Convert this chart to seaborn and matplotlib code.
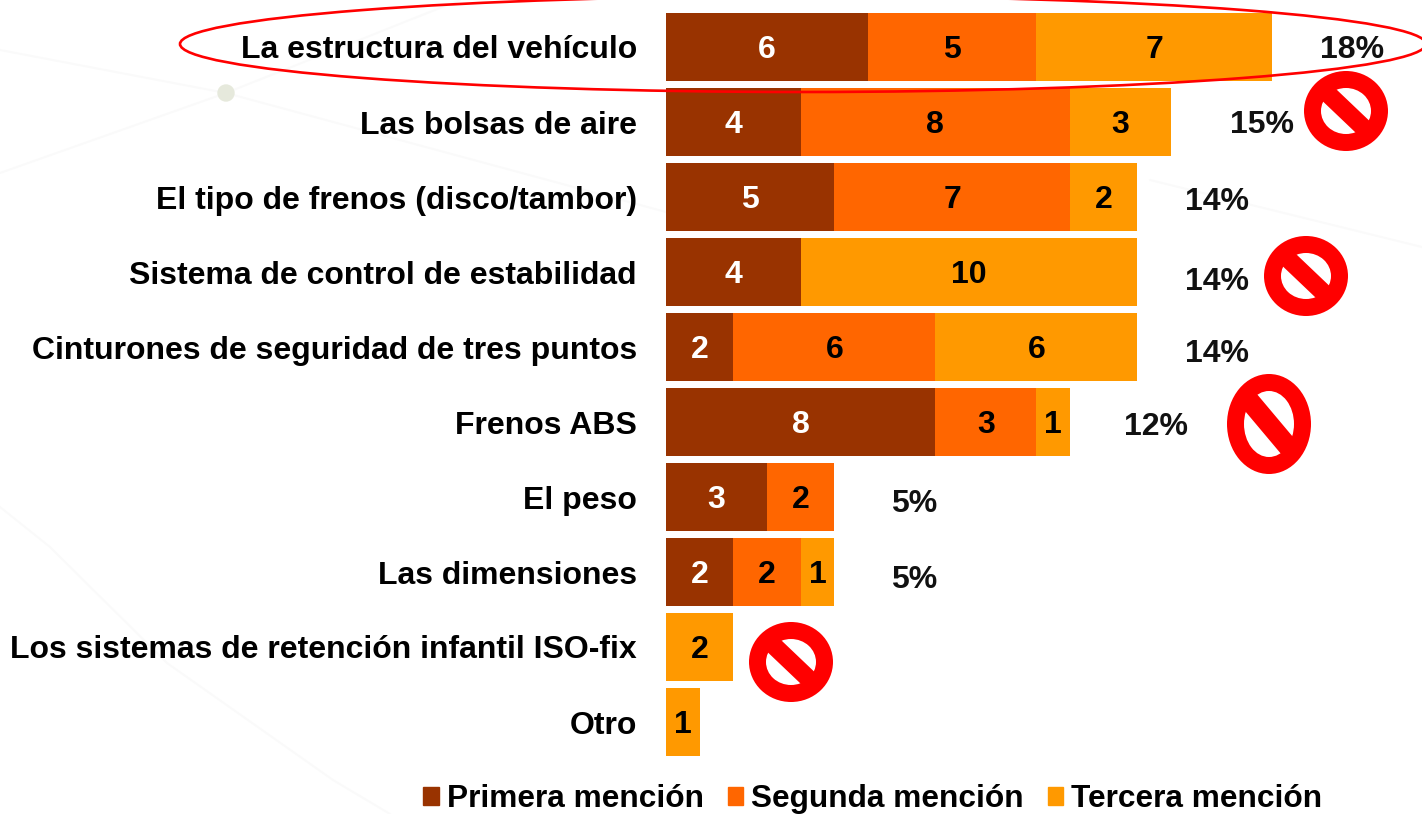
import numpy as np
import seaborn as sns
import matplotlib.pyplot as plt
from matplotlib.patches import Ellipse, Rectangle
from matplotlib.transforms import Affine2D

categories = ["La estructura del vehículo", "Las bolsas de aire",
              "El tipo de frenos (disco/tambor)", "Sistema de control de estabilidad",
              "Cinturones de seguridad de tres puntos", "Frenos ABS", "El peso",
              "Las dimensiones", "Los sistemas de retención infantil ISO-fix", "Otro"]
primera = [6, 4, 5, 4, 2, 8, 3, 2, 0, 0]
segunda = [5, 8, 7, 0, 6, 3, 2, 2, 0, 0]
tercera = [7, 3, 2, 10, 6, 1, 0, 1, 2, 1]
porcentajes = ["18%", "15%", "14%", "14%", "14%", "12%", "5%", "5%", "", ""]
series_names = ["Primera mención", "Segunda mención", "Tercera mención"]
colors = ["#993300", "#FF6600", "#FF9900"]

W, H = 1422, 814
FONT = "Liberation Sans"
FS = 23

sns.set_theme(style="white")
plt.rcParams["font.family"] = FONT

fig = plt.figure(figsize=(W / 100, H / 100), dpi=100)

# faint background lines, pixel coordinates
bg = fig.add_axes([0, 0, 1, 1], zorder=0)
bg.set_xlim(0, W)
bg.set_ylim(H, 0)
bg.axis("off")
for xs, ys in [([0, 226, 666], [50, 93, 212]), ([0, 226, 460], [173, 93, 0]),
               ([1150, 1422], [180, 247]),
               ([0, 50, 167, 333, 390], [507, 547, 663, 780, 814])]:
    bg.plot(xs, ys, color="#fafafa", lw=1.5)
bg.add_patch(Ellipse((226, 93), 16, 16, color="#e6e9dc", zorder=3))

# bars: axis starts where the bars start
px_per_unit = 33.67
ax = fig.add_axes([666 / W, 0, 1 - 666 / W, 1], zorder=1)
ax.patch.set_visible(False)

vals = np.array([primera, segunda, tercera])
cum = vals.cumsum(axis=0)
for i in [2, 1, 0]:
    sns.barplot(x=cum[i], y=categories, color=colors[i], saturation=1, width=0.907,
                linewidth=0, ax=ax, orient="h")

ax.set_xlim(0, (W - 666) / px_per_unit)
ax.set_ylim((H - 47) / 75, -47 / 75)
sns.despine(ax=ax, left=True, bottom=True)
ax.set_xticks([])
ax.set_xlabel("")
ax.set_ylabel("")
ax.tick_params(axis="y", length=0, pad=21)
for lab in ax.get_yticklabels():
    lab.set_fontsize(FS)
    lab.set_fontweight("bold")
    lab.set_color("black")

# numbers inside the segments
for s in range(3):
    for r in range(len(categories)):
        if vals[s, r] == 0:
            continue
        ax.text(cum[s, r] - vals[s, r] / 2, r + 0.04, str(vals[s, r]), ha="center", va="center",
                fontsize=FS, fontweight="bold", color="white" if s == 0 else "black")

# totals, offset in pixels from the bar end
pct_dx = [80, 91, 80, 80, 80, 86, 80, 80, 0, 0]
pct_dy = [3, 3, 5, 10, 7, 5, 7, 8, 0, 0]
for r, p in enumerate(porcentajes):
    if p:
        ax.annotate(p, (cum[2, r], r), xytext=(pct_dx[r] * 0.72, -pct_dy[r] * 0.72),
                    textcoords="offset points", ha="center", va="center",
                    fontsize=FS, fontweight="bold", color="#111111", zorder=5)

handles = [Rectangle((0, 0), 1, 1, color=c) for c in colors]
ax.legend(handles, series_names, ncol=3, loc="lower left", frameon=False,
          bbox_to_anchor=(423 / W, 0), bbox_transform=fig.transFigure,
          prop={"family": FONT, "weight": "bold", "size": 22.8}, labelcolor="black",
          handlelength=0.5, handleheight=0.5, handletextpad=0.25, columnspacing=0.75,
          borderpad=0, borderaxespad=0)

# overlay: highlight ellipse and prohibition signs
ov = fig.add_axes([0, 0, 1, 1], zorder=2)
ov.patch.set_visible(False)
ov.set_xlim(0, W)
ov.set_ylim(H, 0)
ov.axis("off")
ov.add_patch(Ellipse((803, 44), 1246, 96, fill=False, ec="#FF0000", lw=1.9))


def no_sign(cx, cy, rx, ry):
    ov.add_patch(Ellipse((cx, cy), 2 * rx, 2 * ry, fc="#FF0000", ec="none"))
    ov.add_patch(Ellipse((cx, cy), 2 * (rx - 17), 2 * (ry - 17), fc="white", ec="none"))
    bar = Rectangle((-0.72, -0.22), 1.44, 0.44, fc="#FF0000", ec="none")
    bar.set_transform(Affine2D().rotate_deg(45).scale(rx, ry).translate(cx, cy) + ov.transData)
    ov.add_patch(bar)


no_sign(1346, 111, 42, 40)
no_sign(1306, 276, 42, 40)
no_sign(1269, 424, 42, 50)
no_sign(791, 662, 42, 40)

fig.savefig("out.png", dpi=100)
